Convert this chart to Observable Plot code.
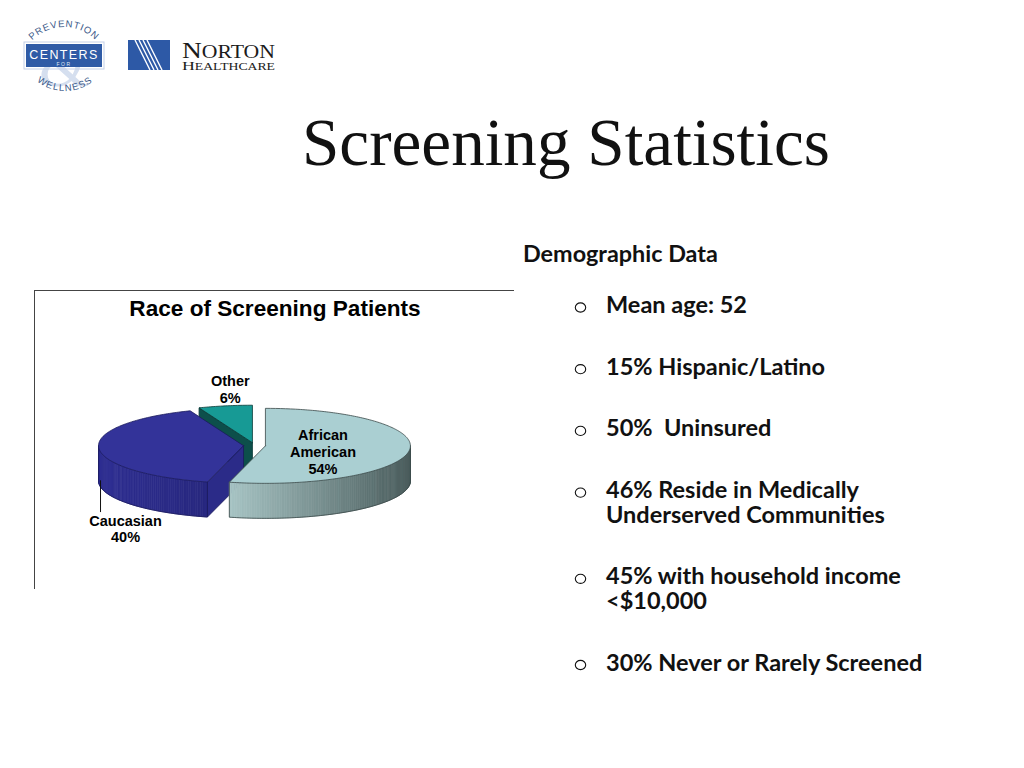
<!DOCTYPE html>
<html><head><meta charset="utf-8">
<script src="https://cdn.jsdelivr.net/npm/d3@7"></script>
<script src="https://cdn.jsdelivr.net/npm/@observablehq/plot@0.6"></script>
<style>
html,body{margin:0;padding:0;background:#fff;}
#page{position:relative;width:1024px;height:768px;overflow:hidden;background:#fff;}
#deco{position:absolute;left:0;top:0;}
#chart{position:absolute;left:34px;top:290px;width:479px;height:298px;border-top:1px solid #444;border-left:1px solid #444;}
#chart svg{overflow:visible;background:transparent;}
</style></head>
<body><div id="page"><svg id="deco" width="1024" height="768"></svg><div id="chart"></div></div>
<script>
// ---------- data ----------
const categories = ["African American", "Caucasian", "Other"];
const shares = [54, 40, 6];
const chartTitle = "Race of Screening Patients";
const slideTitle = "Screening Statistics";
const sectionHead = "Demographic Data";
const bullets = [
  ["Mean age: 52"],
  ["15% Hispanic/Latino"],
  ["50%  Uninsured"],
  ["46% Reside in Medically", "Underserved Communities"],
  ["45% with household income", "<$10,000"],
  ["30% Never or Rarely Screened"]
];

// ---------- styles ----------
const topFill  = ["#aacfd2", "#333399", "#179a95"];
const sideFrom = ["#a7c4c4", "#2f2f92", "#0e5550"];
const sideTo   = ["#4a5c5c", "#28287f", "#0e5550"];
const cutFill  = ["#7a9a9a", "#2b2b88", "#0d4f4b"];
const edge     = ["#3a4848", "#1a1a5c", "#0a3a37"];

// ---------- decorative slide (logos, title, bullets) ----------
const deco = d3.select("#deco");
const ctx = document.createElement("canvas").getContext("2d");
function fit(text, weight, family, target) {
  ctx.font = weight + " 100px " + family;
  return 100 * target / ctx.measureText(text).width;
}

// Prevention Centers for Wellness logo
const defs = deco.append("defs");
defs.append("path").attr("id", "arcTop").attr("d", "M 19.5,71.5 A 44.5,44.5 0 0 1 108.5,71.5");
defs.append("path").attr("id", "arcBot").attr("d", "M 19.5,45.5 A 45.5,45.5 0 0 0 110.5,45.5");
deco.append("text").attr("x", 64).attr("y", 86).attr("text-anchor", "middle")
  .attr("font-family", "Liberation Serif").attr("font-size", 64).attr("fill", "#d5dfef").text("&");
deco.append("rect").attr("x", 24).attr("y", 42).attr("width", 80).attr("height", 27).attr("fill", "none").attr("stroke", "#c3d0e8").attr("stroke-width", 1);
deco.append("rect").attr("x", 26).attr("y", 44).attr("width", 76).attr("height", 23).attr("fill", "#2f5ba6");
deco.append("text").attr("x", 64).attr("y", 59).attr("text-anchor", "middle").attr("font-family", "Liberation Sans")
  .attr("font-size", 12.5).attr("letter-spacing", 1.4).attr("fill", "#fff").text("CENTERS");
deco.append("text").attr("x", 64).attr("y", 65.5).attr("text-anchor", "middle").attr("font-family", "Liberation Sans")
  .attr("font-size", 5).attr("letter-spacing", 1.5).attr("fill", "#dfe6f3").text("FOR");
deco.append("text").attr("font-family", "Liberation Sans").attr("font-size", 9.5).attr("letter-spacing", 0.9).attr("fill", "#3a5888")
  .append("textPath").attr("href", "#arcTop").attr("startOffset", "50%").attr("text-anchor", "middle").text("PREVENTION");
deco.append("text").attr("font-family", "Liberation Sans").attr("font-size", 9.5).attr("letter-spacing", 1.1).attr("fill", "#3a5888")
  .append("textPath").attr("href", "#arcBot").attr("startOffset", "50%").attr("text-anchor", "middle").text("WELLNESS");

// Norton Healthcare logo
deco.append("rect").attr("x", 128).attr("y", 40).attr("width", 42).attr("height", 30).attr("fill", "#2d59a6");
for (let i = 0; i < 4; i++) {
  deco.append("line").attr("x1", 135 + i * 4).attr("y1", 40).attr("x2", 150 + i * 4).attr("y2", 70)
    .attr("stroke", "#fff").attr("stroke-width", 1.4);
}
const nt = deco.append("text").attr("x", 182).attr("y", 58).attr("font-family", "Liberation Serif").attr("fill", "#1b1b1b")
  .attr("textLength", 93).attr("lengthAdjust", "spacingAndGlyphs");
nt.append("tspan").attr("font-size", 24).text("N");
nt.append("tspan").attr("font-size", 19).text("ORTON");
const ht = deco.append("text").attr("x", 182).attr("y", 70).attr("font-family", "Liberation Serif").attr("fill", "#1b1b1b")
  .attr("textLength", 93).attr("lengthAdjust", "spacingAndGlyphs");
ht.append("tspan").attr("font-size", 13).text("H");
ht.append("tspan").attr("font-size", 10).text("EALTHCARE");

// Slide title
const titleSize = fit(slideTitle, "normal", "'Liberation Serif'", 528);
deco.append("text").attr("x", 302).attr("y", 165).attr("font-family", "Liberation Serif")
  .attr("font-size", titleSize).attr("fill", "#111").text(slideTitle);

// Demographic data
const headSize = fit(sectionHead, "bold", "Lato", 195);
deco.append("text").attr("x", 523).attr("y", 262).attr("font-family", "Lato").attr("font-weight", "bold")
  .attr("font-size", headSize).attr("fill", "#111").text(sectionHead);
const bulletSize = fit("30% Never or Rarely Screened", "bold", "Lato", 318);
let yb = 313;
bullets.forEach(lines => {
  deco.append("ellipse").attr("cx", 580.5).attr("cy", yb - 5.5).attr("rx", 5.2).attr("ry", 4.6)
    .attr("fill", "none").attr("stroke", "#111").attr("stroke-width", 1.1);
  lines.forEach((ln, j) => {
    deco.append("text").attr("x", 606).attr("y", yb + j * 24.5).attr("font-family", "Lato").attr("font-weight", "bold")
      .attr("font-size", bulletSize).attr("fill", "#111").style("white-space", "pre").text(ln);
  });
  yb += 61.7 + 24.5 * (lines.length - 1);
});

// ---------- 3D exploded pie with Plot ----------
const W = 479, H = 298;
const cx = 219, cy = 154, rx = 145, ry = 37.5, depth = 35, explode = 11, k = ry / rx;
const pie = d3.pie().sort(null).startAngle(0).endAngle(2 * Math.PI)(shares);
const pt = (c, a, dz = 0) => ({x: c.x + rx * Math.sin(a), y: c.y - ry * Math.cos(a) + dz});
const slices = pie.map((p, i) => {
  const mid = (p.startAngle + p.endAngle) / 2;
  const c = {x: cx + explode * Math.sin(mid), y: cy - explode * k * Math.cos(mid)};
  return {...p, i, mid, c, cat: categories[i], share: shares[i]};
});
const order = slices.slice().sort((a, b) => pt(a.c, a.mid).y - pt(b.c, b.mid).y);

const marks = [];
const poly = (points, fill, stroke, sw) => Plot.line([...points, points[0]], {x: "x", y: "y", fill, stroke, strokeWidth: sw, curve: "linear", strokeLinejoin: "round"});
const path = (points, stroke, sw) => Plot.line(points, {x: "x", y: "y", fill: "none", stroke, strokeWidth: sw, curve: "linear"});

for (const s of order) {
  const {c, i, startAngle: a0, endAngle: a1} = s;
  const cb = {x: c.x, y: c.y + depth};
  // radial cut faces that face the viewer
  const faces = [[a0, a0 - Math.PI / 2], [a1, a1 + Math.PI / 2]];
  for (const [a, n] of faces) {
    if (Math.cos(n) < -1e-6) {
      marks.push(poly([c, pt(c, a), pt(c, a, depth), cb], cutFill[i], edge[i], 0.8));
    }
  }
  // outer side (front half of the ellipse)
  const lo = Math.max(a0, Math.PI / 2), hi = Math.min(a1, 3 * Math.PI / 2);
  if (hi > lo) {
    const n = Math.ceil((hi - lo) / (Math.PI / 180));
    const angs = d3.range(n + 1).map(j => lo + (hi - lo) * j / n);
    const xs = angs.map(a => pt(c, a).x);
    const xL = d3.min(xs), xR = d3.max(xs);
    const interp = d3.interpolateRgb(sideFrom[i], sideTo[i]);
    for (let j = 0; j < n; j++) {
      const p1 = pt(c, angs[j]), p2 = pt(c, angs[j + 1]);
      const t = ((p1.x + p2.x) / 2 - xL) / (xR - xL);
      const col = interp(t);
      marks.push(poly([p1, p2, pt(c, angs[j + 1], depth), pt(c, angs[j], depth)], col, col, 0.7));
    }
    const outline = [pt(c, angs[0]), ...angs.map(a => pt(c, a, depth)), pt(c, angs[n])];
    marks.push(path(outline, edge[i], 0.8));
  }
  // top face
  const m = Math.max(2, Math.ceil((a1 - a0) / (Math.PI / 180)));
  const arc = d3.range(m + 1).map(j => pt(c, a0 + (a1 - a0) * j / m));
  marks.push(poly([c, ...arc], topFill[i], edge[i], 0.8));
}

// labels
const labelText = s => s.cat.replace(" ", "\n") + "\n" + s.share + "%";
const font = {fontFamily: "Liberation Sans, Arial, sans-serif", fontWeight: "bold", fontSize: 14.5, lineHeight: 1.15, fill: "#000"};
const aa = slices[0], cau = slices[1], oth = slices[2];
const aaPos = {x: aa.c.x + 0.4 * rx * Math.sin(aa.mid), y: aa.c.y - 0.4 * ry * Math.cos(aa.mid) + 4};
marks.push(Plot.text([aa], {x: () => aaPos.x, y: () => aaPos.y, text: labelText, ...font, lineAnchor: "middle"}));
const othPos = pt(oth.c, oth.mid);
marks.push(Plot.text([oth], {x: () => othPos.x + 5, y: () => othPos.y - 3, text: labelText, ...font, lineAnchor: "bottom"}));
const lead0 = pt(cau.c, 3 * Math.PI / 2, depth);
const leader = [{x: lead0.x + 2, y: lead0.y}, {x: lead0.x + 2, y: lead0.y + 31}];
marks.push(path(leader, "#111", 1));
marks.push(Plot.text([cau], {x: () => leader[1].x + 25, y: () => leader[1].y + 2, text: labelText, ...font, lineAnchor: "top"}));

// chart title
marks.push(Plot.text([chartTitle], {frameAnchor: "top", dy: 17, lineAnchor: "middle", text: d => d,
  fontFamily: "Liberation Sans, Arial, sans-serif", fontWeight: "bold", fontSize: 22.6, fill: "#000"}));

const chart = Plot.plot({
  width: W, height: H, margin: 0,
  x: {domain: [0, W], range: [0, W], axis: null},
  y: {domain: [0, H], range: [0, H], axis: null},
  marks
});
document.getElementById("chart").appendChild(chart);
</script>
</body></html>
